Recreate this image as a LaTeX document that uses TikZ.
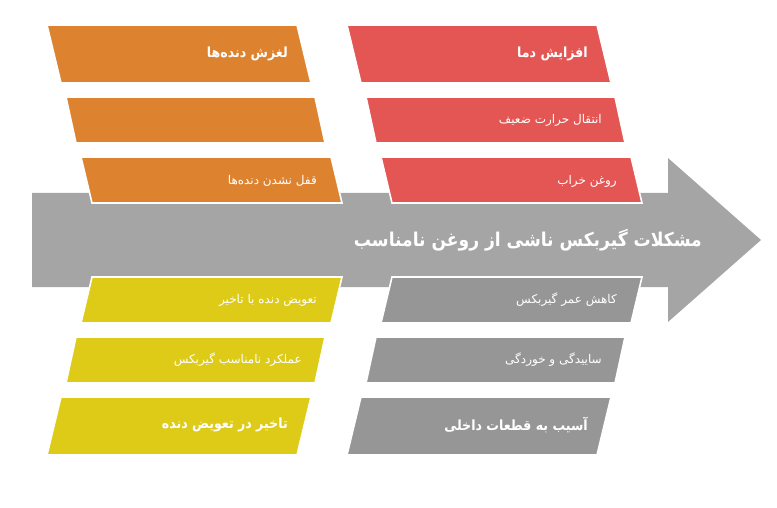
\documentclass[tikz,border=0pt]{standalone}
\usepackage{fontspec}
\newfontfamily\arabicfont[Script=Arabic]{DejaVu Sans}
\newfontfamily\arabicnarrow[Script=Arabic,FakeStretch=0.9]{DejaVu Sans}
\TeXXeTstate=1
\definecolor{cOrange}{HTML}{DD8330}
\definecolor{cRed}{HTML}{E35653}
\definecolor{cYellow}{HTML}{DECB17}
\definecolor{cGrayBox}{HTML}{969696}
\definecolor{cArrow}{HTML}{A5A5A5}
\tikzset{
  slab/.style={draw=white, line width=1.6pt, line join=miter},
  smalltxt/.style={anchor=east, text=white, inner sep=0pt, font=\arabicfont\fontsize{12}{14}\selectfont},
  titletxt/.style={anchor=east, text=white, inner sep=0pt, font=\arabicnarrow\bfseries\fontsize{14}{16}\selectfont},
  maintxt/.style={anchor=east, text=white, inner sep=0pt, font=\arabicnarrow\bfseries\fontsize{19}{22}\selectfont},
}
\begin{document}
\begin{tikzpicture}[x=1pt,y=-1pt]
\useasboundingbox (0,0) rectangle (777,508);
% main arrow
\fill[cArrow] (32,193) -- (668,193) -- (668,158) -- (761,240) -- (668,322) -- (668,287) -- (32,287) -- cycle;
% upper left (orange)
\filldraw[slab, fill=cOrange] (47,25) -- (297,25) -- (311,83) -- (61,83) -- cycle;
\filldraw[slab, fill=cOrange] (66,97) -- (315,97) -- (325,143) -- (76,143) -- cycle;
\filldraw[slab, fill=cOrange] (81,157) -- (331,157) -- (342,203) -- (92,203) -- cycle;
% upper right (red)
\filldraw[slab, fill=cRed] (347,25) -- (597,25) -- (611,83) -- (361,83) -- cycle;
\filldraw[slab, fill=cRed] (366,97) -- (615,97) -- (625,143) -- (376,143) -- cycle;
\filldraw[slab, fill=cRed] (381,157) -- (631,157) -- (642,203) -- (392,203) -- cycle;
% lower left (yellow)
\filldraw[slab, fill=cYellow] (92,277) -- (342,277) -- (331,323) -- (81,323) -- cycle;
\filldraw[slab, fill=cYellow] (76,337) -- (325,337) -- (315,383) -- (66,383) -- cycle;
\filldraw[slab, fill=cYellow] (61,397) -- (311,397) -- (297,455) -- (47,455) -- cycle;
% lower right (gray)
\filldraw[slab, fill=cGrayBox] (392,277) -- (642,277) -- (631,323) -- (381,323) -- cycle;
\filldraw[slab, fill=cGrayBox] (376,337) -- (625,337) -- (615,383) -- (366,383) -- cycle;
\filldraw[slab, fill=cGrayBox] (361,397) -- (611,397) -- (597,455) -- (347,455) -- cycle;
% texts
\node[titletxt] (o1) at (288,54) {\beginR لغزش دنده‌ها\endR};
\node[smalltxt] (o3) at (317,181) {\beginR قفل نشدن دنده‌ها\endR};
\node[titletxt] (r1) at (588,54) {\beginR افزایش دما\endR};
\node[smalltxt] (r2) at (602,120) {\beginR انتقال حرارت ضعیف\endR};
\node[smalltxt] (r3) at (617,181) {\beginR روغن خراب\endR};
\node[maintxt] (m) at (702,240) {\beginR مشکلات گیربکس ناشی از روغن نامناسب\endR};
\node[smalltxt] (y1) at (317,300) {\beginR تعویض دنده با تاخیر\endR};
\node[smalltxt] (y2) at (302,360) {\beginR عملکرد نامناسب گیربکس\endR};
\node[titletxt] (y3) at (288,425) {\beginR تاخیر در تعویض دنده\endR};
\node[smalltxt] (g1) at (617,300) {\beginR کاهش عمر گیربکس\endR};
\node[smalltxt] (g2) at (602,360) {\beginR ساییدگی و خوردگی\endR};
\node[titletxt] (g3) at (588,425) {\beginR آسیب به قطعات داخلی\endR};
\end{tikzpicture}
\end{document}
